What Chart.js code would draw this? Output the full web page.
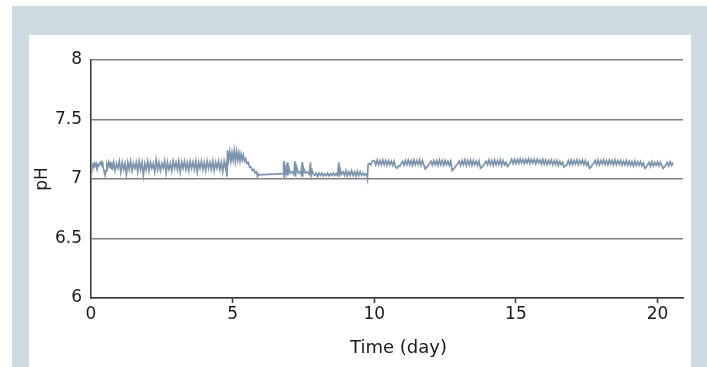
<!DOCTYPE html>
<html>
<head>
<meta charset="utf-8">
<script src="https://cdn.jsdelivr.net/npm/chart.js@4.4.1/dist/chart.umd.min.js"></script>
<style>
  html, body { margin: 0; padding: 0; background: #fff; }
  body { width: 707px; height: 367px; position: relative; overflow: hidden; }
  .frame { position: absolute; left: 12px; top: 6px; right: 0; bottom: 0; background: #cfdbe2; }
  .panel { position: absolute; left: 29px; top: 35px; width: 662px; height: 332px; background: #fff; }
  canvas { display: block; }
</style>
</head>
<body>
<div class="frame"></div>
<div class="panel"><canvas id="phChart" width="662" height="332"></canvas></div>
<script>
// pH trace (time in days)
const days = [
  0.00, 0.03, 0.06, 0.09, 0.12, 0.15, 0.18, 0.21, 0.24, 0.27,
  0.30, 0.33, 0.36, 0.39, 0.42, 0.45, 0.48, 0.50, 0.53, 0.56,
  0.59, 0.62, 0.65, 0.68, 0.71, 0.74, 0.77,
  0.80, 0.85, 0.90, 0.95, 1.00, 1.05, 1.10, 1.15, 1.20, 1.25,
  1.30, 1.35, 1.40, 1.45, 1.50, 1.55, 1.60, 1.65, 1.70, 1.75,
  1.80, 1.85, 1.90, 1.95, 2.00, 2.05, 2.10, 2.15, 2.20, 2.25,
  2.30, 2.35, 2.40, 2.45, 2.50, 2.55, 2.60, 2.65, 2.70, 2.75,
  2.80, 2.85, 2.90, 2.95, 3.00, 3.05, 3.10, 3.15, 3.20, 3.25,
  3.30, 3.35, 3.40, 3.45, 3.50, 3.55, 3.60, 3.65, 3.70, 3.75,
  3.80, 3.85, 3.90, 3.95, 4.00, 4.05, 4.10, 4.15, 4.20, 4.25,
  4.30, 4.35, 4.40, 4.45, 4.50, 4.55, 4.60, 4.65, 4.70, 4.75,
  4.78, 4.80, 4.82, 4.86, 4.90, 4.94, 4.98, 5.02, 5.06, 5.10,
  5.14, 5.18, 5.22, 5.26, 5.30, 5.34, 5.38, 5.42, 5.46, 5.50,
  5.55, 5.60, 5.65, 5.70, 5.75, 5.80, 5.85, 5.88, 5.92,
  5.95, 6.78,
  6.80, 6.82, 6.85, 6.89, 6.93, 6.95, 6.99, 7.04, 7.10, 7.16,
  7.20, 7.22, 7.26, 7.32, 7.38, 7.42, 7.45, 7.47, 7.51, 7.57,
  7.63, 7.70, 7.75, 7.77, 7.81,
  7.85, 7.90, 7.95, 8.00, 8.05, 8.10, 8.15, 8.20, 8.25, 8.30,
  8.35, 8.40, 8.45, 8.50, 8.55, 8.60, 8.65, 8.70,
  8.75, 8.77, 8.80, 8.85,
  8.90, 8.95, 9.00, 9.05, 9.10, 9.15, 9.20, 9.25, 9.30, 9.35,
  9.40, 9.45, 9.50, 9.55, 9.60, 9.65, 9.70, 9.74,
  9.76, 9.78, 9.83, 9.88, 9.93,
  10.00, 10.05, 10.10, 10.15, 10.20, 10.25, 10.30, 10.35, 10.40, 10.45,
  10.50, 10.55, 10.60, 10.65, 10.70, 10.75, 10.80, 10.85, 10.90, 10.95,
  11.00, 11.05, 11.10, 11.15, 11.20, 11.25, 11.30, 11.35, 11.40, 11.45,
  11.50, 11.55, 11.60, 11.65, 11.70, 11.75, 11.80, 11.85, 11.90, 11.95,
  12.00, 12.05, 12.10, 12.15, 12.20, 12.25, 12.30, 12.35, 12.40, 12.45,
  12.50, 12.55, 12.60, 12.65, 12.70, 12.75, 12.80, 12.85, 12.90, 12.95,
  13.00, 13.05, 13.10, 13.15, 13.20, 13.25, 13.30, 13.35, 13.40, 13.45,
  13.50, 13.55, 13.60, 13.65, 13.70, 13.75, 13.80, 13.85, 13.90, 13.95,
  14.00, 14.05, 14.10, 14.15, 14.20, 14.25, 14.30, 14.35, 14.40, 14.45,
  14.50, 14.55, 14.60, 14.65, 14.70, 14.75, 14.80, 14.85, 14.90, 14.95,
  15.00, 15.05, 15.10, 15.15, 15.20, 15.25, 15.30, 15.35, 15.40, 15.45,
  15.50, 15.55, 15.60, 15.65, 15.70, 15.75, 15.80, 15.85, 15.90, 15.95,
  16.00, 16.05, 16.10, 16.15, 16.20, 16.25, 16.30, 16.35, 16.40, 16.45,
  16.50, 16.55, 16.60, 16.65, 16.70, 16.75, 16.80, 16.85, 16.90, 16.95,
  17.00, 17.05, 17.10, 17.15, 17.20, 17.25, 17.30, 17.35, 17.40, 17.45,
  17.50, 17.55, 17.60, 17.65, 17.70, 17.75, 17.80, 17.85, 17.90, 17.95,
  18.00, 18.05, 18.10, 18.15, 18.20, 18.25, 18.30, 18.35, 18.40, 18.45,
  18.50, 18.55, 18.60, 18.65, 18.70, 18.75, 18.80, 18.85, 18.90, 18.95,
  19.00, 19.05, 19.10, 19.15, 19.20, 19.25, 19.30, 19.35, 19.40, 19.45,
  19.50, 19.55, 19.60, 19.65, 19.70, 19.75, 19.80, 19.85, 19.90, 19.95,
  20.00, 20.05, 20.10, 20.15, 20.20, 20.25, 20.30, 20.35, 20.40, 20.45,
  20.50, 20.55
];

const ph = [
  7.06, 7.09, 7.12, 7.10, 7.13, 7.11, 7.13, 7.10, 7.12, 7.11,
  7.13, 7.14, 7.12, 7.14, 7.10, 7.08, 7.05, 7.03, 7.07, 7.12,
  7.10, 7.14, 7.11, 7.13, 7.09, 7.14, 7.10,
  7.14, 7.07, 7.13, 7.09, 7.15, 7.06, 7.14, 7.08, 7.13, 7.04,
  7.14, 7.08, 7.15, 7.07, 7.13, 7.09, 7.14, 7.06, 7.15, 7.08,
  7.14, 7.03, 7.13, 7.08, 7.15, 7.07, 7.14, 7.09, 7.13, 7.06,
  7.16, 7.08, 7.14, 7.07, 7.13, 7.09, 7.15, 7.05, 7.14, 7.08,
  7.13, 7.07, 7.15, 7.09, 7.14, 7.08, 7.15, 7.06, 7.14, 7.09,
  7.15, 7.08, 7.14, 7.07, 7.15, 7.09, 7.14, 7.08, 7.15, 7.06,
  7.14, 7.09, 7.15, 7.08, 7.14, 7.07, 7.15, 7.09, 7.14, 7.08,
  7.15, 7.07, 7.14, 7.09, 7.15, 7.08, 7.14, 7.06, 7.15, 7.09,
  7.13, 7.02, 7.24, 7.16, 7.23, 7.15, 7.22, 7.16, 7.24, 7.15,
  7.23, 7.16, 7.22, 7.15, 7.21, 7.16, 7.20, 7.15, 7.17, 7.13,
  7.14, 7.10, 7.10, 7.07, 7.08, 7.05, 7.06, 7.02, 7.04,
  7.035, 7.045,
  7.15, 7.00, 7.10, 7.05, 7.14, 7.03, 7.09, 7.05, 7.06, 7.04,
  7.15, 7.02, 7.10, 7.05, 7.06, 7.04, 7.14, 7.02, 7.09, 7.05,
  7.06, 7.04, 7.14, 7.03, 7.07,
  7.04, 7.03, 7.05, 7.02, 7.05, 7.03, 7.05, 7.025, 7.045, 7.03,
  7.05, 7.025, 7.045, 7.03, 7.05, 7.03, 7.045, 7.03,
  7.14, 7.02, 7.08, 7.04,
  7.06, 7.03, 7.07, 7.025, 7.06, 7.03, 7.07, 7.03, 7.06, 7.025,
  7.065, 7.03, 7.06, 7.03, 7.05, 7.03, 7.045, 7.03,
  7.005, 7.12, 7.13, 7.12, 7.15,
  7.155, 7.12, 7.16, 7.12, 7.155, 7.12, 7.16, 7.12, 7.155, 7.115,
  7.155, 7.12, 7.15, 7.115, 7.15, 7.10, 7.09, 7.11, 7.105, 7.13,
  7.15, 7.115, 7.155, 7.12, 7.16, 7.12, 7.155, 7.115, 7.16, 7.12,
  7.155, 7.12, 7.16, 7.115, 7.155, 7.12, 7.085, 7.10, 7.11, 7.13,
  7.15, 7.115, 7.155, 7.12, 7.155, 7.115, 7.16, 7.12, 7.155, 7.115,
  7.155, 7.12, 7.15, 7.115, 7.15, 7.07, 7.08, 7.10, 7.115, 7.13,
  7.15, 7.115, 7.155, 7.12, 7.16, 7.115, 7.155, 7.12, 7.16, 7.115,
  7.155, 7.12, 7.15, 7.115, 7.15, 7.09, 7.10, 7.115, 7.13, 7.15,
  7.12, 7.16, 7.12, 7.155, 7.115, 7.16, 7.12, 7.155, 7.12, 7.16,
  7.115, 7.155, 7.12, 7.14, 7.105, 7.12, 7.135, 7.165, 7.13, 7.165,
  7.13, 7.165, 7.13, 7.17, 7.135, 7.165, 7.13, 7.165, 7.135, 7.17,
  7.13, 7.165, 7.135, 7.165, 7.13, 7.165, 7.135, 7.16, 7.125, 7.165,
  7.125, 7.16, 7.12, 7.155, 7.125, 7.16, 7.12, 7.155, 7.12, 7.155,
  7.115, 7.15, 7.12, 7.14, 7.10, 7.11, 7.12, 7.155, 7.12, 7.16,
  7.12, 7.155, 7.125, 7.16, 7.12, 7.155, 7.125, 7.16, 7.12, 7.155,
  7.115, 7.14, 7.09, 7.10, 7.12, 7.135, 7.155, 7.12, 7.16, 7.12,
  7.155, 7.125, 7.16, 7.12, 7.155, 7.12, 7.16, 7.125, 7.155, 7.12,
  7.16, 7.12, 7.155, 7.125, 7.155, 7.115, 7.15, 7.12, 7.155, 7.115,
  7.15, 7.115, 7.145, 7.11, 7.15, 7.115, 7.145, 7.115, 7.145, 7.11,
  7.135, 7.09, 7.10, 7.12, 7.14, 7.105, 7.145, 7.11, 7.14, 7.115,
  7.145, 7.11, 7.14, 7.115, 7.09, 7.105, 7.12, 7.14, 7.11, 7.145,
  7.115, 7.14
];

const xTicks = [0, 5, 10, 15, 20];
const yTicks = [6, 6.5, 7, 7.5, 8];

const lineColor = "#7d94ad";
const axisColor = "#333";
const textColor = "#1a1a1a";
const tickFont = { family: "'DejaVu Sans', sans-serif", size: 17 };
const titleFont = { family: "'DejaVu Sans', sans-serif", size: 18 };

const points = days.map((d, i) => ({ x: d, y: ph[i] }));

new Chart(document.getElementById("phChart"), {
  type: "line",
  data: {
    datasets: [
      {
        label: "pH",
        data: points,
        borderColor: lineColor,
        borderWidth: 1.7,
        pointRadius: 0,
        tension: 0,
        fill: false,
      },
    ],
  },
  options: {
    responsive: false,
    animation: false,
    layout: { padding: { top: 25, right: 8, left: 0, bottom: 0 } },
    plugins: { legend: { display: false }, tooltip: { enabled: false } },
    scales: {
      x: {
        type: "linear",
        min: 0,
        max: 20.9,
        afterBuildTicks: (axis) => {
          axis.ticks = xTicks.map((v) => ({ value: v }));
        },
        afterFit: (axis) => {
          axis.height = 69;
        },
        border: { color: axisColor, width: 1.5 },
        grid: {
          drawOnChartArea: false,
          drawTicks: true,
          tickLength: 5,
          tickWidth: 1.5,
          tickColor: (c) => (c.tick && c.tick.value === 0 ? "rgba(0,0,0,0)" : axisColor),
        },
        ticks: { font: tickFont, color: textColor, padding: 1, maxRotation: 0 },
        title: {
          display: true,
          // leading spaces nudge the centred title right, as in the figure
          text: "    Time (day)",
          font: titleFont,
          color: textColor,
          padding: { top: 0, bottom: 8 },
        },
      },
      y: {
        min: 6,
        max: 8,
        afterBuildTicks: (axis) => {
          axis.ticks = yTicks.map((v) => ({ value: v }));
        },
        afterFit: (axis) => {
          axis.width = 62;
        },
        border: { color: axisColor, width: 1.5 },
        grid: { color: "#808080", lineWidth: 1.5, drawTicks: false },
        ticks: {
          font: tickFont,
          color: textColor,
          padding: 9,
          callback: (v) => String(v),
        },
        title: {
          display: true,
          text: "pH",
          font: tickFont,
          color: textColor,
          padding: { top: 3, bottom: 0 },
        },
      },
    },
  },
});
</script>
</body>
</html>
